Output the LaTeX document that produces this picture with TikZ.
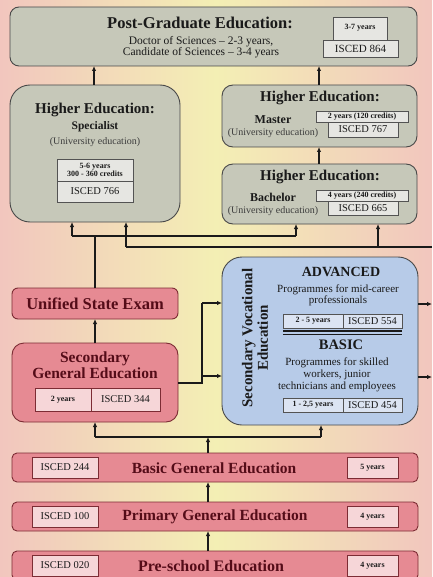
\documentclass[tikz,border=0pt]{standalone}
\usepackage{fontspec}
\setmainfont{Liberation Serif}
\usetikzlibrary{arrows.meta}
\definecolor{bgp}{HTML}{F2C6BE}
\definecolor{bgy}{HTML}{F3EFB4}
\definecolor{gfill}{HTML}{C6C8B9}
\definecolor{gcellc}{HTML}{E6E6E2}
\definecolor{pfill}{HTML}{E68A93}
\definecolor{pdraw}{HTML}{7C2C34}
\definecolor{pcellc}{HTML}{F6D6D8}
\definecolor{ptext}{HTML}{540C18}
\definecolor{bfill}{HTML}{B7CBE8}
\definecolor{bcellc}{HTML}{DCE4F2}
\definecolor{ink}{HTML}{1A1A1A}
\newcommand\myfs[1]{\fontsize{#1}{#1}\selectfont}
\begin{document}
\begin{tikzpicture}[x=1pt,y=-1pt,
  box/.style={inner sep=0pt, outer sep=0pt},
  gbox/.style={box, draw=ink!80, fill=gfill, line width=0.9pt},
  pbox/.style={box, draw=pdraw, fill=pfill, line width=0.9pt, rounded corners=5pt},
  bbox/.style={box, draw=ink!80, fill=bfill, line width=0.9pt, rounded corners=20pt},
  gcell/.style={box, draw=ink!75, fill=gcellc, line width=0.6pt},
  pcell/.style={box, draw=pdraw, fill=pcellc, line width=0.7pt},
  bcell/.style={box, draw=ink!75, fill=bcellc, line width=0.6pt},
  ttl/.style={inner sep=0pt, font=\bfseries\myfs{15}, text=ink},
  pttl/.style={inner sep=0pt, font=\bfseries\myfs{15}, text=ptext},
  sub/.style={inner sep=0pt, font=\myfs{10}, text=ink!85, align=center},
  bsub/.style={inner sep=0pt, font=\bfseries\myfs{11.5}, text=ink},
  tiny/.style={inner sep=0pt, font=\bfseries\myfs{8}, text=ink, align=center},
  isc/.style={inner sep=0pt, font=\myfs{10.5}, text=ink},
  conn/.style={draw=ink, line width=1.1pt},
  arr/.style={conn, -{Latex[length=5pt,width=4.5pt]}}
]
\useasboundingbox (0,0) rectangle (432,577);
\shade[left color=bgp, right color=bgp, middle color=bgy] (0,0) rectangle (432,577);

% ---------- Post-graduate ----------
\node[gbox, rounded corners=9pt, minimum width=407pt, minimum height=59pt] (pg) at (213.5,36.5) {};
\node[ttl, font=\bfseries\myfs{16.5}] (pgt) at (200,23) {Post-Graduate Education:};
\node[sub, font=\fontsize{11.5}{11}\selectfont, text=ink] (pgs) at (201,47.5) {Doctor of Sciences -- 2-3 years,\\Candidate of Sciences -- 3-4 years};
\node[gcell, minimum width=54pt, minimum height=23pt] (pgy) at (360,28.5) {};
\node[tiny] (pgyt) at (360,27.5) {3-7 years};
\node[gcell, minimum width=75pt, minimum height=17pt] (pgi) at (360.5,48.5) {};
\node[isc, font=\myfs{11}] (pgit) at (360.5,48.5) {ISCED 864};

% ---------- Specialist ----------
\node[gbox, rounded corners=20pt, minimum width=170pt, minimum height=137pt] (spec) at (95,153.5) {};
\node[ttl] (spect) at (95,110) {Higher Education:};
\node[bsub] (specs) at (95,127) {Specialist};
\node[sub] (specu) at (95,142) {(University education)};
\node[gcell, minimum width=76pt, minimum height=22pt] (specy) at (95,170) {};
\node[tiny, font=\bfseries\fontsize{8}{8.5}\selectfont] (specyt) at (95,170) {5-6 years\\300 - 360 credits};
\node[gcell, minimum width=76pt, minimum height=21pt] (speci) at (95,191.5) {};
\node[isc] (specit) at (95,191.5) {ISCED 766};

% ---------- Master ----------
\node[gbox, rounded corners=11pt, minimum width=195pt, minimum height=62pt] (mas) at (319.5,116) {};
\node[ttl] (mast) at (320,98) {Higher Education:};
\node[bsub, font=\bfseries\myfs{12}] (mass) at (273,120) {Master};
\node[sub] (masu) at (273,133) {(University education)};
\node[gcell, minimum width=92pt, minimum height=11pt] (masy) at (362,116.5) {};
\node[tiny] (masyt) at (362,116.5) {2 years (120 credits)};
\node[gcell, minimum width=70pt, minimum height=15pt] (masi) at (363,129.5) {};
\node[isc] (masit) at (363,129.5) {ISCED 767};

% ---------- Bachelor ----------
\node[gbox, rounded corners=11pt, minimum width=195pt, minimum height=60pt] (bac) at (319.5,194) {};
\node[ttl] (bact) at (320,177) {Higher Education:};
\node[bsub, font=\bfseries\myfs{12}] (bacs) at (273,197) {Bachelor};
\node[sub] (bacu) at (273,211) {(University education)};
\node[gcell, minimum width=92pt, minimum height=11pt] (bacy) at (362,195.5) {};
\node[tiny] (bacyt) at (362,195.5) {4 years (240 credits)};
\node[gcell, minimum width=70pt, minimum height=14pt] (baci) at (363,208) {};
\node[isc] (bacit) at (363,208) {ISCED 665};

% ---------- Unified State Exam ----------
\node[pbox, rounded corners=6pt, minimum width=166pt, minimum height=31pt] (use) at (95,303.5) {};
\node[pttl, font=\bfseries\myfs{16.5}] (uset) at (95,303.5) {Unified State Exam};

% ---------- Secondary General ----------
\node[pbox, rounded corners=12pt, minimum width=166pt, minimum height=79pt] (sge) at (95,382.5) {};
\node[pttl, align=center, font=\bfseries\fontsize{15.5}{16}\selectfont] (sget) at (95,365) {Secondary\\General Education};
\node[pcell, minimum width=56pt, minimum height=23pt] (sgey) at (63,399.5) {};
\node[tiny] (sgeyt) at (63,399.5) {2 years};
\node[pcell, minimum width=69pt, minimum height=23pt] (sgei) at (125.5,399.5) {};
\node[isc] (sgeit) at (125.5,399.5) {ISCED 344};

% ---------- Secondary Vocational ----------
\node[bbox, minimum width=196pt, minimum height=168pt] (sve) at (320,341) {};
\node[inner sep=0pt, rotate=90, align=center, font=\bfseries\fontsize{15}{15.5}\selectfont, text=ink] (svet) at (255,338) {Secondary Vocational\\Education};
\node[inner sep=0pt, font=\bfseries\myfs{14}, text=ink] (adv) at (341,272) {ADVANCED};
\node[sub, font=\fontsize{11}{10.7}\selectfont, text=ink] (advt) at (338,295.5) {Programmes for mid-career\\professionals};
\node[bcell, minimum width=60pt, minimum height=14pt] (advy) at (313,321) {};
\node[tiny] (advyt) at (313,321) {2 - 5 years};
\node[bcell, minimum width=59pt, minimum height=14pt] (advi) at (372.5,321) {};
\node[isc] (advit) at (372.5,321) {ISCED 554};
\coordinate (dl1) at (283,331);
\coordinate (dl2) at (402,331);
\draw[ink, line width=1.8pt] (dl1) -- (dl2);
\draw[ink, line width=0.6pt] ([yshift=-3pt]dl1) -- ([yshift=-3pt]dl2);
\node[inner sep=0pt, font=\bfseries\myfs{14.5}, text=ink] (bas) at (341,345) {BASIC};
\node[sub, font=\fontsize{11}{12}\selectfont, text=ink] (bast) at (337,374.5) {Programmes for skilled\\workers, junior\\technicians and employees};
\node[bcell, minimum width=60pt, minimum height=14pt] (basy) at (313,405) {};
\node[tiny] (basyt) at (313,405) {1 - 2,5 years};
\node[bcell, minimum width=59pt, minimum height=14pt] (basi) at (372.5,405) {};
\node[isc] (basit) at (372.5,405) {ISCED 454};

% ---------- Bottom rows ----------
\node[pbox, minimum width=406pt, minimum height=29pt] (bge) at (215,467.5) {};
\node[pttl, font=\bfseries\myfs{15.5}] (bget) at (214,468) {Basic General Education};
\node[pcell, minimum width=66pt, minimum height=21pt] (bgei) at (65,467.5) {};
\node[isc] (bgeit) at (65,467.5) {ISCED 244};
\node[pcell, minimum width=51pt, minimum height=21pt] (bgey) at (372.5,467.5) {};
\node[tiny] (bgeyt) at (372.5,467.5) {5 years};

\node[pbox, minimum width=406pt, minimum height=29pt] (pri) at (215,516.5) {};
\node[pttl, font=\bfseries\myfs{15.5}] (prit) at (215,517) {Primary General Education};
\node[pcell, minimum width=66pt, minimum height=21pt] (prii) at (65,516.5) {};
\node[isc] (priit) at (65,516.5) {ISCED 100};
\node[pcell, minimum width=51pt, minimum height=21pt] (priy) at (372.5,516.5) {};
\node[tiny] (priyt) at (372.5,516.5) {4 years};

\node[pbox, minimum width=406pt, minimum height=29pt] (pre) at (215,565.5) {};
\node[pttl, font=\bfseries\myfs{16}] (pret) at (211,566) {Pre-school Education};
\node[pcell, minimum width=66pt, minimum height=21pt] (prei) at (65,565.5) {};
\node[isc] (preit) at (65,565.5) {ISCED 020};
\node[pcell, minimum width=51pt, minimum height=21pt] (prey) at (372.5,565.5) {};
\node[tiny] (preyt) at (372.5,565.5) {4 years};

% ---------- Connectors ----------
\coordinate (xa) at (94,0);
\coordinate (xb) at (319,0);
\draw[arr] (spec.north -| xa) -- (pg.south -| xa);
\draw[arr] (mas.north -| xb) -- (pg.south -| xb);
\draw[arr] (bac.north -| xb) -- (mas.south -| xb);

% exam -> specialist / bachelor
\coordinate (j1) at (95,236);
\coordinate (j1l) at (72,236);
\coordinate (j1r) at (296,236);
\draw[conn] (use.north -| j1) -- (j1);
\draw[conn] (j1l) -- (j1r);
\draw[arr] (j1l) -- (spec.south -| j1l);
\draw[arr] (j1r) -- (bac.south -| j1r);

% vocational loop line
\coordinate (o3) at (432,247);
\coordinate (j2l) at (126,247);
\coordinate (j2r) at (378,247);
\draw[conn] (o3) -- (j2l);
\draw[arr] (j2l) -- (spec.south -| j2l);
\draw[arr] (j2r) -- (bac.south -| j2r);

% sge -> exam
\draw[arr] (sge.north -| j1) -- (use.south -| j1);

% sge -> sve
\coordinate (k0) at (202,383);
\coordinate (k1) at (202,303);
\coordinate (k2) at (202,376);
\draw[conn] (sge.east |- k0) -- (k0) -- (k1);
\draw[arr] (k1) -- (sve.west |- k1);
\draw[arr] (k2) -- (sve.west |- k2);

% sve outputs
\coordinate (o1) at (432,304);
\coordinate (o2) at (432,377);
\draw[arr] (sve.east |- o1) -- (o1);
\draw[arr] (sve.east |- o2) -- (o2);

% basic -> sge / sve
\coordinate (m0) at (208,437);
\coordinate (ml) at (95,437);
\coordinate (mr) at (321,437);
\draw[arr] (bge.north -| m0) -- (m0);
\draw[conn] (ml) -- (mr);
\draw[arr] (ml) -- (sge.south -| ml);
\draw[arr] (mr) -- (sve.south -| mr);

% lower chain
\draw[arr] (pri.north -| m0) -- (bge.south -| m0);
\draw[arr] (pre.north -| m0) -- (pri.south -| m0);
\end{tikzpicture}
\end{document}
